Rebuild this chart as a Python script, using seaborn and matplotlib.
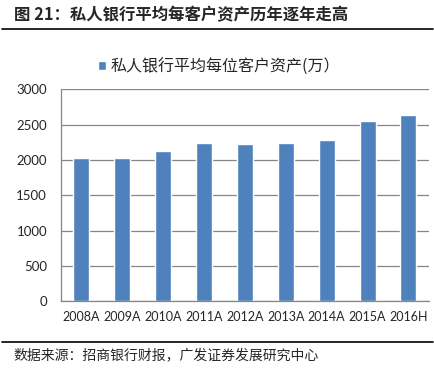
import matplotlib
matplotlib.use('Agg')
import matplotlib.pyplot as plt
import seaborn as sns
import pandas as pd

# Data
years = ['2008A', '2009A', '2010A', '2011A', '2012A', '2013A', '2014A', '2015A', '2016H']
assets = [2027, 2027, 2126, 2239, 2225, 2239, 2282, 2551, 2636]
series_name = '私人银行平均每位客户资产(万）'
yticks = [0, 500, 1000, 1500, 2000, 2500, 3000]

df = pd.DataFrame({'Year': years, 'Asset': assets, 'Series': series_name})

sns.set_style('white')
plt.rcParams['font.family'] = ['Noto Sans CJK SC', 'DejaVu Sans']

fig = plt.figure(figsize=(4.35, 3.69), dpi=100)
ax = fig.add_axes([0.140, 0.184, 0.846, 0.574])

sns.barplot(data=df, x='Year', y='Asset', hue='Series', palette=['#4F81BD'],
            saturation=1, width=0.39, ax=ax, legend=True)

grid_c = '#868686'
ax.set_ylim(0, 3000)
ax.set_yticks(yticks)
ax.set_xlim(-0.5, len(years) - 0.5)
ax.yaxis.grid(True, color=grid_c, linewidth=0.9)
ax.set_axisbelow(True)
for s in ['top', 'right']:
    ax.spines[s].set_visible(False)
for s in ['left', 'bottom']:
    ax.spines[s].set_color(grid_c)
    ax.spines[s].set_linewidth(0.9)
ax.set_xlabel('')
ax.set_ylabel('')

# x ticks at category boundaries
ax.set_xticks([i - 0.5 for i in range(len(years) + 1)], minor=True)
ax.tick_params(axis='x', which='major', length=0, pad=7)
ax.tick_params(axis='x', which='minor', length=5, color=grid_c, width=0.9)
ax.tick_params(axis='y', length=5, color=grid_c, width=0.9, pad=5)
for lab in ax.get_xticklabels() + ax.get_yticklabels():
    lab.set_fontfamily(['Lato', 'DejaVu Sans'])
    lab.set_fontsize(9.5)
for lab in ax.get_xticklabels():
    lab.set_fontsize(9)

leg = ax.legend(loc='lower center', bbox_to_anchor=(0.43, 1.035), frameon=False,
                fontsize=11.5, handlelength=0.5, handleheight=0.5, handletextpad=0.3,
                borderaxespad=0)

# title and source
fig.text(0.032, 0.958, '图 21：私人银行平均每客户资产历年逐年走高', fontsize=11.8,
         fontweight='bold', va='center', ha='left')
fig.add_artist(plt.Line2D([0.005, 0.995], [0.921, 0.921], color='black', linewidth=1.2))
fig.add_artist(plt.Line2D([0.005, 0.995], [0.073, 0.073], color='black', linewidth=1.2))
fig.text(0.032, 0.038, '数据来源：招商银行财报，广发证券发展研究中心', fontsize=10,
         va='center', ha='left')

fig.savefig('out.png', dpi=100)
